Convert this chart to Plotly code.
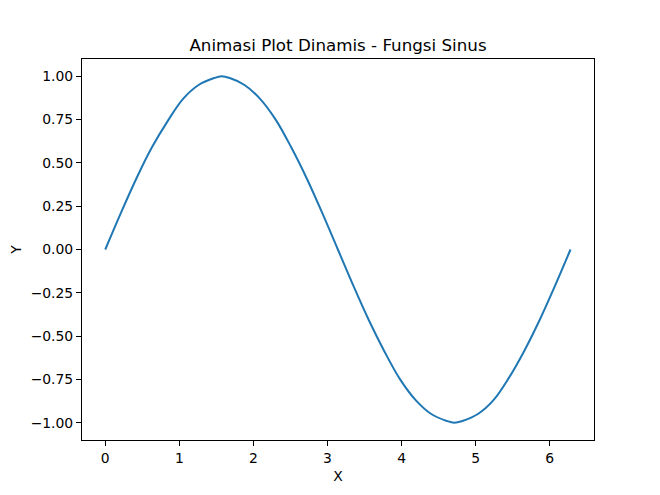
import plotly.graph_objects as go

# values
x_vals = [0.00, 0.21, 0.42, 0.63, 0.84, 1.05, 1.26, 1.47, 1.57, 1.68, 1.88, 2.09, 2.30,
          2.51, 2.72, 2.93, 3.14, 3.35, 3.56, 3.77, 3.98, 4.19, 4.40, 4.61, 4.71, 4.82,
          5.03, 5.24, 5.45, 5.65, 5.86, 6.07, 6.28]
y_vals = [0.00, 0.21, 0.41, 0.59, 0.74, 0.87, 0.95, 0.99, 1.00, 0.99, 0.95, 0.87, 0.75,
          0.59, 0.41, 0.21, 0.00, -0.21, -0.41, -0.59, -0.75, -0.87, -0.95, -0.99, -1.00, -0.99,
          -0.95, -0.87, -0.74, -0.59, -0.41, -0.21, 0.00]

x_ticks = [0, 1, 2, 3, 4, 5, 6]
y_ticks = [-1.00, -0.75, -0.50, -0.25, 0.00, 0.25, 0.50, 0.75, 1.00]

fig = go.Figure()
fig.add_trace(go.Scatter(
    x=x_vals, y=y_vals, mode="lines",
    line=dict(color="#1f77b4", width=2, shape="spline"),
    showlegend=False,
))

axis_common = dict(
    showline=True, linecolor="black", linewidth=1, mirror=True,
    ticks="outside", ticklen=5, tickcolor="black", tickwidth=1,
    showgrid=False, zeroline=False,
    tickfont=dict(family="DejaVu Sans", size=13.9, color="black"),
)

# page body has an 8px margin, so the figure is sized to fit what is left
fig.update_layout(
    width=652, height=487,
    paper_bgcolor="white", plot_bgcolor="white",
    margin=dict(l=74, r=66, t=51, b=55),
    font=dict(family="DejaVu Sans", color="black"),
    title=dict(text="Animasi Plot Dinamis - Fungsi Sinus", x=0.5, xref="paper",
               y=1 - 37 / 487, yref="container", yanchor="middle",
               font=dict(size=16.7, color="black")),
    xaxis=dict(axis_common, range=[-0.314, 6.597], tickvals=x_ticks, automargin=True,
               title=dict(text="X", font=dict(size=13.9), standoff=6)),
    yaxis=dict(axis_common, range=[-1.1, 1.1], tickvals=y_ticks, tickformat=".2f",
               automargin=False, title=dict(text="Y", font=dict(size=13.9))),
)

fig.write_html("out.html")
